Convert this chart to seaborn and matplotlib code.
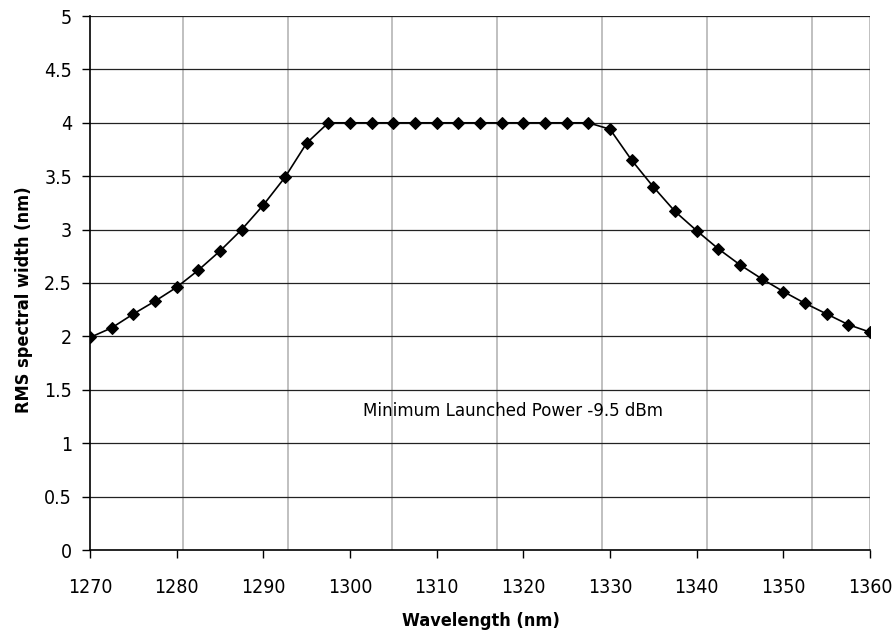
import matplotlib
matplotlib.use("Agg")
import matplotlib.pyplot as plt
import seaborn as sns
import pandas as pd
import numpy as np

wavelength = [1270, 1272.5, 1275, 1277.5, 1280, 1282.5, 1285, 1287.5, 1290, 1292.5,
              1295, 1297.5, 1300, 1302.5, 1305, 1307.5, 1310, 1312.5, 1315, 1317.5,
              1320, 1322.5, 1325, 1327.5, 1330, 1332.5, 1335, 1337.5, 1340, 1342.5,
              1345, 1347.5, 1350, 1352.5, 1355, 1357.5, 1360]
rms_width = [1.99, 2.08, 2.21, 2.33, 2.46, 2.62, 2.80, 3.00, 3.23, 3.49,
             3.81, 4.00, 4.00, 4.00, 4.00, 4.00, 4.00, 4.00, 4.00, 4.00,
             4.00, 4.00, 4.00, 4.00, 3.94, 3.65, 3.40, 3.17, 2.99, 2.82,
             2.67, 2.54, 2.42, 2.31, 2.21, 2.11, 2.04]
x_ticks = [1270, 1280, 1290, 1300, 1310, 1320, 1330, 1340, 1350, 1360]
y_ticks = [0, 0.5, 1, 1.5, 2, 2.5, 3, 3.5, 4, 4.5, 5]
y_tick_labels = ["0", "0.5", "1", "1.5", "2", "2.5", "3", "3.5", "4", "4.5", "5"]
vgrid = [1280.7, 1292.8, 1304.9, 1317.0, 1329.1, 1341.2, 1353.3, 1360]
annotation = "Minimum Launched Power -9.5 dBm"

sns.set_style("white")
plt.rcParams['font.family'] = ['DejaVu Sans']
plt.rcParams['font.stretch'] = 'condensed'
plt.rcParams['text.color'] = 'black'
plt.rcParams['axes.labelcolor'] = 'black'
plt.rcParams['xtick.color'] = 'black'
plt.rcParams['ytick.color'] = 'black'

df = pd.DataFrame({"wl": wavelength, "rms": rms_width})

fig = plt.figure(figsize=(8.93, 6.37), dpi=100)
ax = fig.add_axes([90/893, 87/637, 780/893, 534/637])

for v in vgrid:
    ax.axvline(v, color="#bbbbbb", lw=1.3, zorder=0)
for t in y_ticks[1:]:
    ax.axhline(t, color="#222222", lw=0.9, zorder=1)

sns.lineplot(data=df, x="wl", y="rms", ax=ax, color="black", lw=1.2,
             marker="D", markersize=6.3, markeredgecolor="black",
             markerfacecolor="black", zorder=3)

ax.set_xlim(1270, 1360)
ax.set_ylim(0, 5)
ax.set_xticks(x_ticks)
ax.set_xticklabels([str(t) for t in x_ticks])
ax.set_yticks(y_ticks)
ax.set_yticklabels(y_tick_labels)
ax.tick_params(axis="both", direction="out", length=6, width=1, color="black",
               labelsize=14, left=True, bottom=True)
ax.tick_params(axis="x", pad=14)
ax.tick_params(axis="y", pad=7)
for s in ["top", "right"]:
    ax.spines[s].set_visible(False)
for s in ["left", "bottom"]:
    ax.spines[s].set_color("black")
    ax.spines[s].set_linewidth(1.2)

ax.set_xlabel("Wavelength (nm)", fontsize=13, fontweight="bold")
ax.set_ylabel("RMS spectral width (nm)", fontsize=13, fontweight="bold")
ax.xaxis.set_label_coords(0.501, -0.116)
ax.yaxis.set_label_coords(-0.073, 0.468)

ax.text(1318.8, 1.30, annotation, ha="center", va="center", fontsize=13.3)

fig.savefig("out.png", dpi=100)
